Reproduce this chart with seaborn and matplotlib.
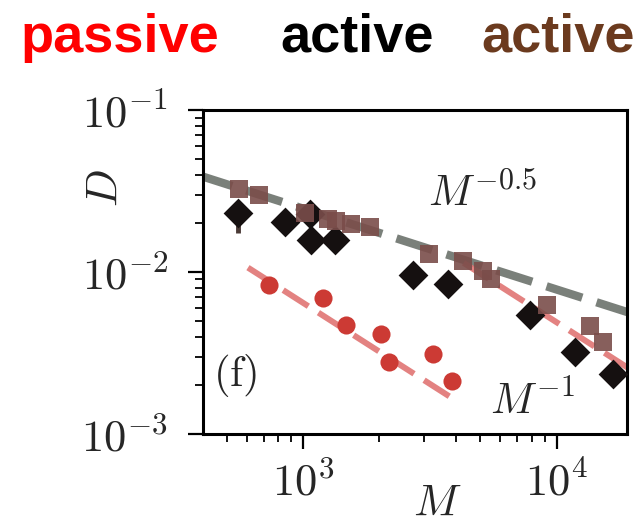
import numpy as np
import pandas as pd
import matplotlib
matplotlib.use("Agg")
import matplotlib.pyplot as plt
import matplotlib.ticker as mticker
import seaborn as sns

# --- measured diffusion coefficients ---
active_sq_M = [559, 674, 1015, 1256, 1355, 1552, 1833, 3141, 4285, 5140, 5530, 9140, 13550, 15290]
active_sq_D = [0.0325, 0.0300, 0.0232, 0.0213, 0.0206, 0.0199, 0.0190, 0.0130, 0.0117, 0.0101,
               0.0090, 0.0063, 0.00465, 0.00368]

active_dm_M = [553, 847, 1063, 1072, 1333, 2716, 3730, 7850, 11810, 16750]
active_dm_D = [0.0232, 0.0203, 0.0227, 0.0157, 0.0157, 0.0096, 0.0084, 0.0054, 0.0032, 0.00235]
active_dm_err_lo = [0.0058, 0, 0, 0, 0, 0, 0, 0, 0, 0]
active_dm_err_hi = [0.0038, 0, 0, 0, 0, 0, 0, 0, 0, 0]

passive_M = [738, 1199, 1482, 2038, 2178, 3243, 3855]
passive_D = [0.00828, 0.00689, 0.00470, 0.00414, 0.00280, 0.00312, 0.00214]

# --- power-law guides (end points) ---
guide_half_M = [380, 20000]
guide_half_D = [0.0400, 0.00552]
guide_one_passive_M = [607, 3820]
guide_one_passive_D = [0.01065, 0.00169]
guide_one_active_M = [4300, 20000]
guide_one_active_D = [0.01140, 0.00245]

x_ticks = [1e3, 1e4]
y_ticks = [1e-3, 1e-2, 1e-1]

sns.set_theme(style="ticks")
plt.rcParams["mathtext.fontset"] = "cm"
plt.rcParams["font.family"] = ["DejaVu Sans"]

fig = plt.figure(figsize=(6.44, 5.25), dpi=100)
ax = fig.add_axes([0.315, 0.1733, 0.658, 0.617])
ax.set_xscale("log")
ax.set_yscale("log")

half_df = pd.DataFrame({"M": guide_half_M, "D": guide_half_D})
onep_df = pd.DataFrame({"M": guide_one_passive_M, "D": guide_one_passive_D})
onea_df = pd.DataFrame({"M": guide_one_active_M, "D": guide_one_active_D})

sns.lineplot(data=half_df, x="M", y="D", ax=ax, color="#6c726c", lw=6.0, alpha=0.9,
             zorder=1).lines[-1].set_dashes((4.5, 1.8))
l1 = sns.lineplot(data=onep_df, x="M", y="D", ax=ax, color="#e07573", lw=4.3, alpha=0.9, zorder=1).lines[-1]
l1.set_dashes((5, 2))
l2 = sns.lineplot(data=onea_df, x="M", y="D", ax=ax, color="#e07573", lw=4.3, alpha=0.9, zorder=1).lines[-1]
l2.set_dashes((5, 2))

# diamonds with error bar
ax.errorbar(active_dm_M, active_dm_D, yerr=[active_dm_err_lo, active_dm_err_hi],
            fmt="none", ecolor="#4a3a36", elinewidth=3.5, capsize=0, zorder=2)
sns.scatterplot(x=active_dm_M, y=active_dm_D, ax=ax, marker="D", s=230, color="#151010",
                linewidth=0, zorder=3)
sns.scatterplot(x=active_sq_M, y=active_sq_D, ax=ax, marker="s", s=185, color="#7a4d4a",
                alpha=0.9, linewidth=0, zorder=4)
sns.scatterplot(x=passive_M, y=passive_D, ax=ax, marker="o", s=170, color="#cc3a34",
                linewidth=0, zorder=4)

ax.set_xlim(403, 18900)
ax.set_ylim(1e-3, 1e-1)
ax.set_xlabel("")
ax.set_ylabel("")

fmt = mticker.FuncFormatter(lambda v, p: r"$10^{%d}$" % int(round(np.log10(v))))
ax.xaxis.set_major_locator(mticker.FixedLocator(x_ticks))
ax.yaxis.set_major_locator(mticker.FixedLocator(y_ticks))
ax.xaxis.set_major_formatter(fmt)
ax.yaxis.set_major_formatter(fmt)
ax.xaxis.set_minor_locator(mticker.LogLocator(base=10, subs=np.arange(2, 10)))
ax.yaxis.set_minor_locator(mticker.LogLocator(base=10, subs=np.arange(2, 10)))
ax.xaxis.set_minor_formatter(mticker.NullFormatter())
ax.yaxis.set_minor_formatter(mticker.NullFormatter())

ax.tick_params(which="major", direction="out", length=11, width=1.6, labelsize=32,
               top=False, right=False, color="black")
ax.tick_params(which="minor", direction="out", length=5.5, width=1.3,
               top=False, right=False, color="black")
ax.tick_params(axis="x", which="major", pad=9)
ax.tick_params(axis="y", which="major", pad=14)
for sp in ax.spines.values():
    sp.set_visible(True)
    sp.set_linewidth(2.2)
    sp.set_color("black")

# axis labels
ax.text(-0.229, 0.76, r"$D$", transform=ax.transAxes, rotation=90, ha="center", va="center",
        fontsize=32)
ax.text(0.552, -0.215, r"$M$", transform=ax.transAxes, ha="center", va="center", fontsize=32)

# annotations
ax.text(0.531, 0.704, r"$M^{-0.5}$", transform=ax.transAxes, ha="left", va="baseline", fontsize=31)
ax.text(0.677, 0.062, r"$M^{-1}$", transform=ax.transAxes, ha="left", va="baseline", fontsize=31)
ax.text(0.024, 0.148, r"$\mathrm{(f)}$", transform=ax.transAxes, ha="left", va="baseline", fontsize=31)

# column headers
hdr = dict(fontsize=39, fontweight="bold", family=["Liberation Sans", "DejaVu Sans"],
           ha="center", va="baseline")
fig.text(120 / 644, 1 - 52 / 525, "passive", color="#ff0000", **hdr)
fig.text(357 / 644, 1 - 52 / 525, "active", color="#000000", **hdr)
fig.text(558 / 644, 1 - 52 / 525, "active", color="#6b3a1e", **hdr)

fig.savefig("out.png", dpi=100, facecolor="white")
